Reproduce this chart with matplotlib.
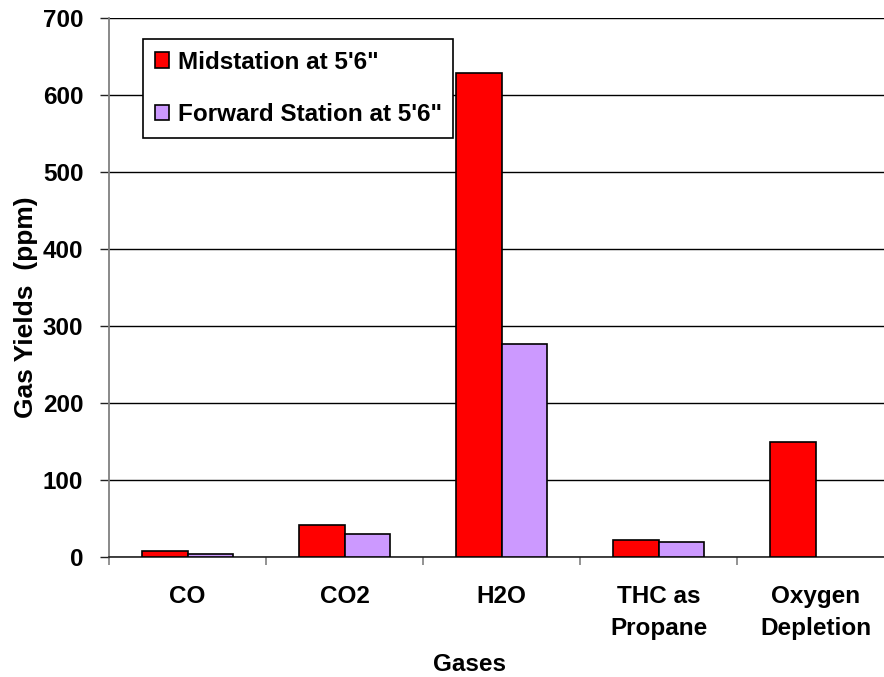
import matplotlib
matplotlib.use("Agg")
import matplotlib.pyplot as plt
import numpy as np

plt.rcParams['font.family'] = ['Liberation Sans', 'DejaVu Sans']
plt.rcParams['font.weight'] = 'bold'

categories = ["CO", "CO2", "H2O", "THC as\nPropane", "Oxygen\nDepletion"]
midstation = [8, 42, 628, 22, 149]
forward = [4, 30, 276, 20, 0]
series_names = ["Midstation at 5'6\"", "Forward Station at 5'6\""]
yticks = [0, 100, 200, 300, 400, 500, 600, 700]

fig = plt.figure(figsize=(8.84, 6.77), dpi=100)
ax = fig.add_axes([109/884, 120/677, 785/884, 539/677])

x = np.arange(len(categories))
w = 0.287
ax.bar(x - w/2, midstation, w, color="#ff0000", edgecolor="black", linewidth=1.2, zorder=3,
       label=series_names[0])
fwd_x = [xi + w/2 for xi, v in zip(x, forward) if v > 0]
fwd_v = [v for v in forward if v > 0]
ax.bar(fwd_x, fwd_v, w, color="#cc99ff", edgecolor="black", linewidth=1.2, zorder=3,
       label=series_names[1])

ax.set_xlim(-0.5, len(categories) - 0.5)
ax.set_ylim(0, 700)
ax.set_yticks(yticks)
ax.yaxis.grid(True, color="black", linewidth=1.0, zorder=0)
ax.set_axisbelow(True)

ax.set_xticks(np.arange(len(categories) + 1) - 0.5, minor=False)
ax.set_xticklabels([])
ax.set_xticks(x, minor=True)
ax.set_xticklabels(categories, minor=True, fontsize=17.5, fontweight="bold", linespacing=1.5)
ax.tick_params(axis="x", which="minor", length=0, pad=20)
ax.tick_params(axis="x", which="major", length=6, color="#808080", width=1.2, direction="out")
ax.tick_params(axis="y", length=6.5, color="#222222", width=1.0, labelsize=17.5, pad=12)

for s in ["top", "right"]:
    ax.spines[s].set_visible(False)
ax.spines["left"].set_color("#808080")
ax.spines["left"].set_linewidth(1.3)
ax.spines["bottom"].set_color("#222222")
ax.spines["bottom"].set_linewidth(1.2)

ax.set_ylabel("Gas Yields  (ppm)", fontsize=19, fontweight="bold")
ax.yaxis.set_label_coords(-0.090, 0.464)
ax.set_xlabel("Gases", fontsize=17.5, fontweight="bold")
ax.xaxis.set_label_coords(0.4586, -0.178)

leg = ax.legend(loc="upper left", bbox_to_anchor=(34/785, 1 - 21/539), borderaxespad=0,
                frameon=True, fancybox=False, edgecolor="black", framealpha=1.0,
                handlelength=0.6, handleheight=0.6, handletextpad=0.35,
                borderpad=0.48, labelspacing=1.2,
                prop={"weight": "bold", "size": 17.5})
leg.get_frame().set_linewidth(1.2)

fig.savefig("out.png", dpi=100)
